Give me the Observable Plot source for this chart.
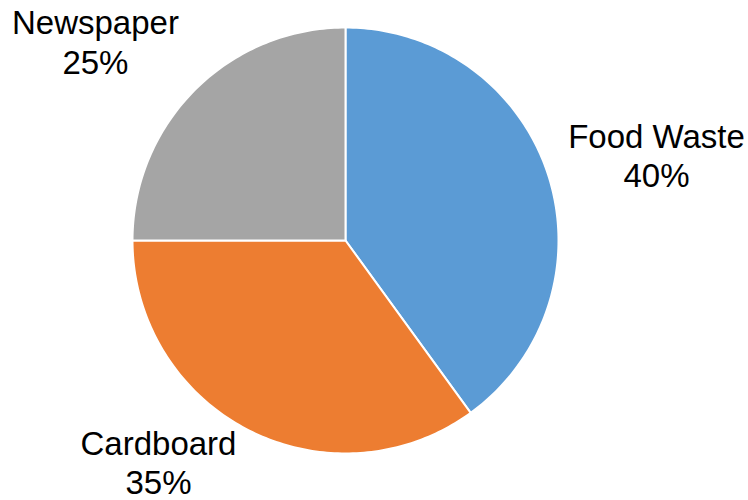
<!DOCTYPE html>
<html>
<head>
<meta charset="utf-8">
<script src="https://cdn.jsdelivr.net/npm/d3@7"></script>
<script src="https://cdn.jsdelivr.net/npm/@observablehq/plot@0.6"></script>
<style>
  html, body { margin: 0; padding: 0; background: #fff; }
  svg { display: block; }
</style>
</head>
<body>
<div id="chart"></div>
<script>
// Data
const categories = ["Food Waste", "Cardboard", "Newspaper"];
const shares = [40, 35, 25];
const colors = ["#5B9BD5", "#ED7D31", "#A5A5A5"];

// Label layout (in pie-radius units, relative to centre; y = percent-line baseline)
const labelX = [1.46, -0.878, -1.174];
const labelY = [0.249, -1.19, 0.784];

// Build slice outlines from the data (clockwise from 12 o'clock)
const total = d3.sum(shares);
const slices = [];
let acc = 0;
categories.forEach((name, i) => {
  const a0 = acc / total * 2 * Math.PI;
  acc += shares[i];
  const a1 = acc / total * 2 * Math.PI;
  const n = Math.max(8, Math.ceil((a1 - a0) / (Math.PI / 180)));
  slices.push({name, x: 0, y: 0});
  for (let k = 0; k <= n; k++) {
    const a = a0 + (a1 - a0) * k / n;
    slices.push({name, x: Math.sin(a), y: Math.cos(a)});
  }
  slices.push({name, x: 0, y: 0});
});

const labels = categories.map((name, i) => ({
  text: `${name}\n${shares[i]}%`,
  x: labelX[i],
  y: labelY[i]
}));

const plot = Plot.plot({
  width: 748,
  height: 500,
  x: {domain: [-1, 1], range: [132, 558], axis: null},
  y: {domain: [-1, 1], range: [453, 27], axis: null},
  color: {domain: categories, range: colors},
  style: {fontFamily: "'Liberation Sans', Arial, sans-serif", background: "white"},
  marks: [
    Plot.line(slices, {x: "x", y: "y", z: "name", fill: "name", stroke: "white", strokeWidth: 2, strokeLinejoin: "round"}),
    Plot.text(labels, {x: "x", y: "y", text: "text", fontSize: 33, lineHeight: 1.19, lineAnchor: "bottom", textAnchor: "middle", fill: "#000"})
  ]
});
document.getElementById("chart").appendChild(plot);
</script>
</body>
</html>
